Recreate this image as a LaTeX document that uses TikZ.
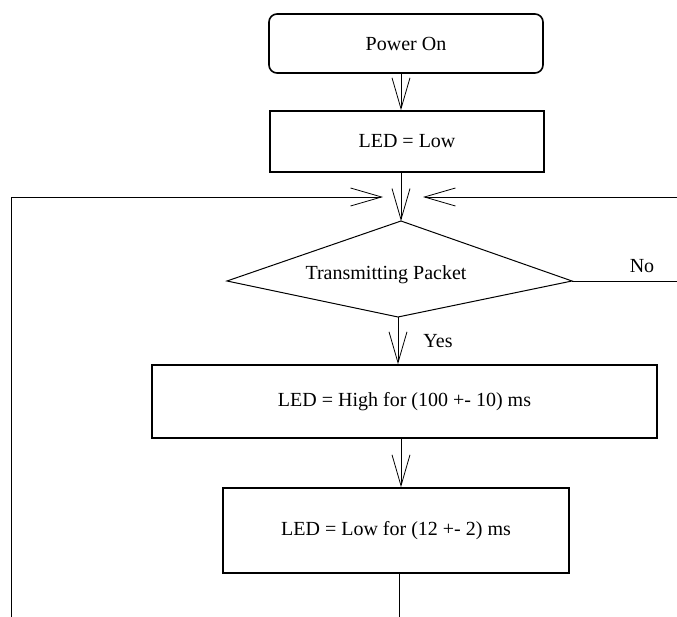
\documentclass[tikz,border=0pt]{standalone}
\usepackage{fontspec}
\setmainfont{Liberation Serif}
\usepackage{tikz}
\usetikzlibrary{calc}
\usetikzlibrary{arrows.meta}
\usetikzlibrary{positioning}
\tikzset{%
  myedge/.style={-{Straight Barb[length=31pt,width=18pt]}, line width=0.8pt},
  myline/.style={line width=0.8pt},
  mybox/.style={rectangle, draw=black, line width=1.6pt, align=center, inner sep=0pt},
  myround/.style={mybox, rounded corners=8pt},
  mylabel/.style={inner sep=0pt}
}

\begin{document}
\begin{tikzpicture}[x=1pt, y=-1pt, font=\fontsize{20}{24}\selectfont]
  \useasboundingbox (0,0) rectangle (677,617);

  \node[myround, minimum width=274pt, minimum height=59pt] (power) at (406,43.5) {Power On};
  \node[mybox, minimum width=274pt, minimum height=61pt] (ledlow) at (407,141.5) {LED = Low};

  \coordinate (dtop) at (401,221);
  \coordinate (dleft) at (227,281);
  \coordinate (dright) at (572,281);
  \coordinate (dbot) at (398,317);
  \draw[line width=1pt] (dtop) -- (dright) -- (dbot) -- (dleft) -- cycle;
  \node[mylabel] (test) at (386,275) {Transmitting Packet};

  \node[mybox, minimum width=505pt, minimum height=73pt] (ledhigh) at (404.5,401.5) {LED = High for (100 +- 10) ms};
  \node[mybox, minimum width=346pt, minimum height=85pt] (ledpause) at (396,530.5) {LED = Low for (12 +- 2) ms};

  \coordinate (loopl) at (11,617);
  \coordinate (mergel) at (383,197);
  \coordinate (loopr) at (677,197);
  \coordinate (merger) at (423,197);
  \coordinate (nout) at (677,281);
  \coordinate (tail) at (399,617);

  \draw[myedge] (power.south -| dtop) -- (ledlow.north -| dtop);
  \draw[myedge] (ledlow.south -| dtop) -- (dtop);
  \draw[myedge] (loopl) |- (mergel);
  \draw[myedge] (loopr) -- (merger);
  \draw[myline] (dright) -- (nout);
  \draw[myedge] (dbot) -- (ledhigh.north -| dbot);
  \draw[myedge] (ledhigh.south -| dtop) -- (ledpause.north -| dtop);
  \draw[myline] (ledpause.south -| tail) -- (tail);

  \node[mylabel] (no) at (642,266) {No};
  \node[mylabel] (yes) at (438,341) {Yes};
\end{tikzpicture}
\end{document}
